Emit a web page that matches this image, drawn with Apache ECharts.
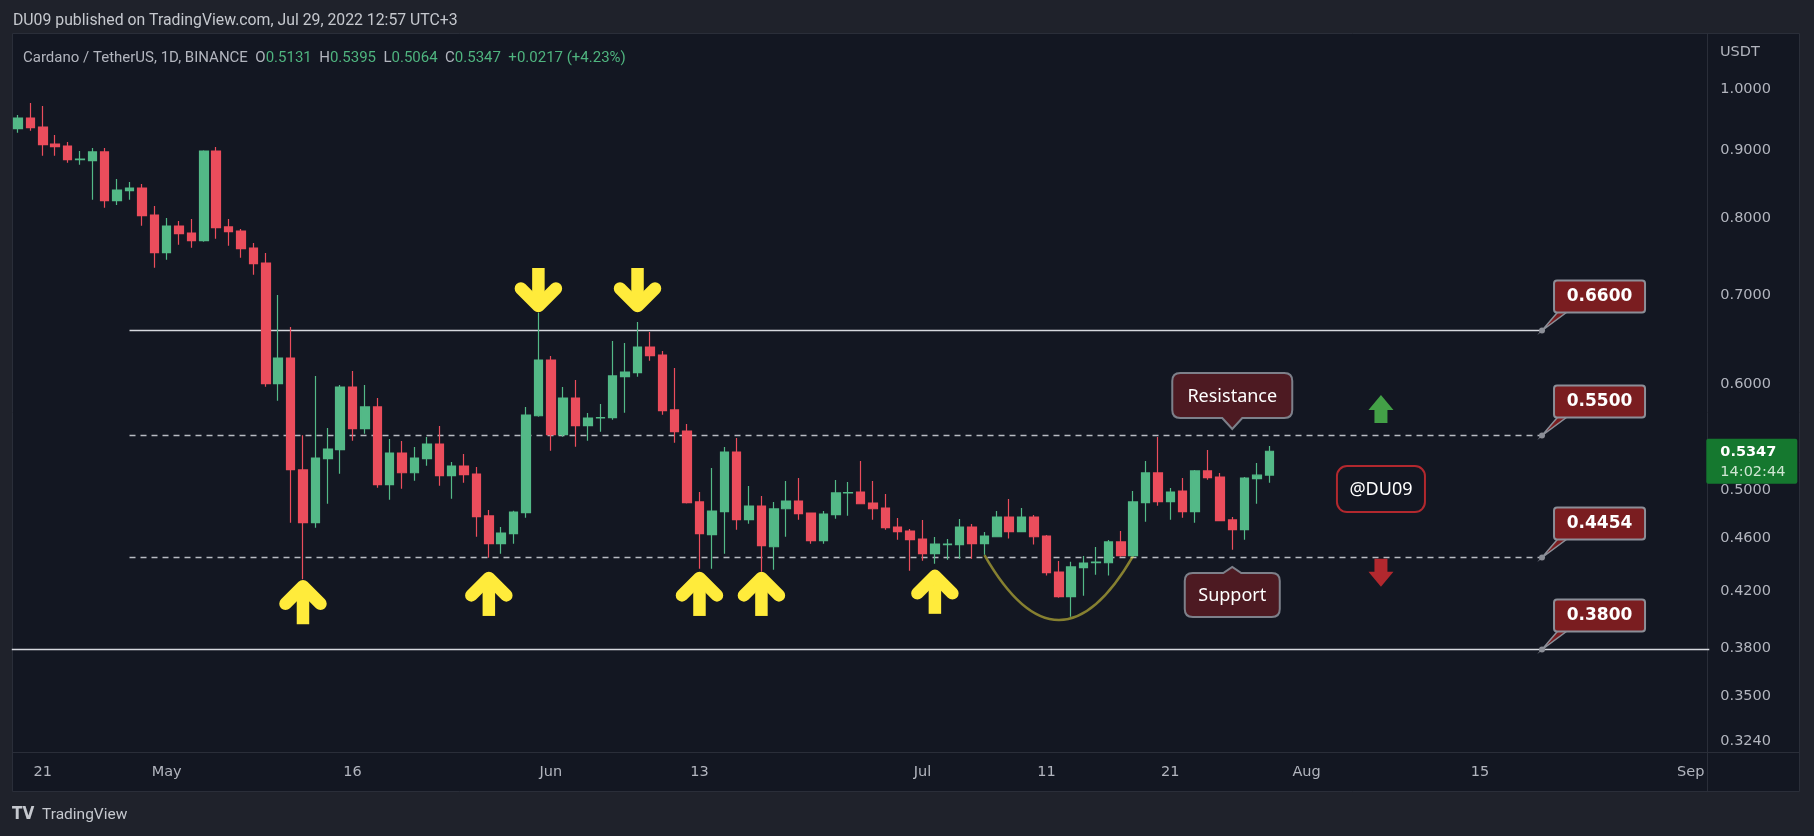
<!DOCTYPE html>
<html>
<head>
<meta charset="utf-8">
<script src="https://cdn.jsdelivr.net/npm/echarts@6/dist/echarts.min.js"></script>
<style>html,body{margin:0;padding:0;background:#1f222b;}#c{width:1814px;height:836px;}</style>
</head>
<body>
<div id="c"></div>
<script>
// ---------------- DATA ----------------
const firstCandleDate = '2022-04-19';
const axisStartDate = '2022-04-19';
const axisEndDate = '2022-09-02';

const opens = [0.9343,0.9517,0.9370,0.9099,0.9067,0.8857,0.8840,0.8974,0.8249,0.8393,
0.8432,0.8047,0.7539,0.7895,0.7800,0.7697,0.8989,0.7882,0.7827,0.7600,
0.7406,0.6010,0.6283,0.5177,0.4726,0.5279,0.5362,0.5976,0.5560,0.5773,
0.5047,0.5331,0.5152,0.5279,0.5414,0.5126,0.5212,0.5141,0.4781,0.4557,
0.4637,0.4808,0.5686,0.6261,0.5503,0.5863,0.5589,0.5664,0.5667,0.6084,
0.6126,0.6404,0.6316,0.5743,0.5537,0.4898,0.4629,0.4817,0.5340,0.4750,
0.4864,0.4533,0.4841,0.4906,0.4805,0.4581,0.4792,0.4975,0.4983,0.4889,
0.4847,0.4690,0.4658,0.4594,0.4479,0.4550,0.4550,0.4690,0.4557,0.4612,
0.4772,0.4653,0.4772,0.4618,0.4339,0.4158,0.4372,0.4409,0.4409,0.4571,
0.4463,0.4892,0.5150,0.4901,0.4992,0.4817,0.5168,0.5114,0.4748,0.4669,
0.5099,0.5131];
const highs = [0.9567,0.9767,0.9717,0.9241,0.9130,0.8989,0.9036,0.9036,0.8564,0.8520,
0.8490,0.8173,0.8005,0.7964,0.7991,0.9000,0.9052,0.7991,0.7854,0.7666,
0.7535,0.7007,0.6629,0.5497,0.6091,0.5566,0.5996,0.6144,0.5996,0.5863,
0.5462,0.5443,0.5386,0.5480,0.5586,0.5248,0.5322,0.5203,0.4830,0.4690,
0.4825,0.5773,0.6796,0.6305,0.5976,0.6049,0.5713,0.5803,0.6471,0.6448,
0.6687,0.6572,0.6360,0.6175,0.5605,0.4983,0.5194,0.5386,0.5471,0.5035,
0.4949,0.4898,0.5079,0.5105,0.4805,0.4822,0.5088,0.5070,0.5257,0.5079,
0.4966,0.4764,0.4674,0.4748,0.4610,0.4594,0.4756,0.4715,0.4650,0.4822,
0.4923,0.4847,0.4789,0.4626,0.4422,0.4417,0.4461,0.4531,0.4586,0.4658,
0.4992,0.5257,0.5480,0.5018,0.5105,0.5177,0.5359,0.5150,0.4772,0.5114,
0.5239,0.5395];
const lows = [0.9279,0.9311,0.8917,0.8917,0.8809,0.8779,0.8263,0.8150,0.8187,0.8263,
0.7900,0.7346,0.7448,0.7644,0.7605,0.7684,0.7724,0.7631,0.7474,0.7258,
0.5979,0.5836,0.4726,0.4285,0.4685,0.4883,0.5144,0.5446,0.5512,0.5021,
0.4917,0.5012,0.5082,0.5215,0.5038,0.4926,0.5064,0.4612,0.4448,0.4479,
0.4557,0.4767,0.5677,0.5352,0.5484,0.5389,0.5446,0.5531,0.5647,0.5716,
0.6084,0.6254,0.5696,0.5427,0.4885,0.4364,0.4364,0.4479,0.4669,0.4717,
0.4341,0.4356,0.4612,0.4750,0.4557,0.4557,0.4758,0.4783,0.4883,0.4750,
0.4669,0.4589,0.4349,0.4425,0.4402,0.4432,0.4440,0.4440,0.4471,0.4607,
0.4597,0.4653,0.4550,0.4312,0.4150,0.4016,0.4165,0.4319,0.4312,0.4456,
0.4456,0.4734,0.4867,0.4750,0.4767,0.4726,0.5091,0.4742,0.4510,0.4589,
0.4883,0.5064];
const closes = [0.9517,0.9359,0.9088,0.9057,0.8855,0.8865,0.8974,0.8249,0.8403,0.8432,
0.8038,0.7539,0.7895,0.7791,0.7697,0.8989,0.7873,0.7818,0.7592,0.7397,
0.6010,0.6283,0.5179,0.4726,0.5285,0.5368,0.5976,0.5560,0.5773,0.5047,
0.5331,0.5152,0.5285,0.5414,0.5126,0.5212,0.5135,0.4775,0.4557,0.4642,
0.4813,0.5693,0.6261,0.5503,0.5863,0.5589,0.5664,0.5667,0.6091,0.6133,
0.6404,0.6309,0.5736,0.5531,0.4892,0.4637,0.4822,0.5340,0.4750,0.4864,
0.4541,0.4839,0.4906,0.4800,0.4581,0.4797,0.4975,0.4977,0.4883,0.4841,
0.4685,0.4653,0.4589,0.4479,0.4554,0.4554,0.4690,0.4557,0.4618,0.4772,
0.4653,0.4772,0.4612,0.4334,0.4158,0.4377,0.4407,0.4414,0.4571,0.4463,
0.4898,0.5150,0.4901,0.4983,0.4817,0.5168,0.5108,0.4742,0.4669,0.5105,
0.5130,0.5347];

const yTickValues = [1.0, 0.9, 0.8, 0.7, 0.6, 0.5, 0.46, 0.42, 0.38, 0.35, 0.324];
const yMin = 0.3178, yMax = 1.1025;
const xTickDates = ['2022-04-21','2022-05-01','2022-05-16','2022-06-01','2022-06-13','2022-07-01','2022-07-11','2022-07-21','2022-08-01','2022-08-15','2022-09-01'];
const xTickLabels = ['21','May','16','Jun','13','Jul','11','21','Aug','15','Sep'];

const levelPrices = [0.66, 0.55, 0.4454, 0.38];
const levelStarts = ['2022-04-28','2022-04-28','2022-04-28', null];
const levelEnds   = ['2022-08-20','2022-08-20','2022-08-20', null];
const levelDashed = [false, true, true, false];
const levelTagDate = '2022-08-20';

const upArrowDates = ['2022-05-12','2022-05-27','2022-06-13','2022-06-18','2022-07-02'];
const upArrowPrices = [0.4285, 0.4347, 0.4347, 0.4347, 0.4363];
const downArrowDates = ['2022-05-31','2022-06-08'];
const downArrowPrices = [0.6792, 0.6792];

const cupDates = ['2022-07-06','2022-07-12','2022-07-18'];
const cupPrices = [0.4468, 0.3993, 0.4461];

const noteTexts = ['Resistance', 'Support'];
const noteDates = ['2022-07-26', '2022-07-26'];
const notePrices = [0.5557, 0.4377];
const noteDirs = ['down', 'up'];

const signalDates = ['2022-08-07', '2022-08-07'];
const signalPrices = [0.5894, 0.4230];
const signalDirs = [1, -1];

const watermarkText = '@DU09';
const watermarkDate = '2022-08-07';
const watermarkPrice = 0.5009;

const headerPublished = 'DU09 published on TradingView.com, Jul 29, 2022 12:57 UTC+3';
const symbolTitle = 'Cardano / TetherUS, 1D, BINANCE';
const countdownText = '14:02:44';

// ---------------- BUILD ----------------
function dayList(a, b) {
  const out = [];
  let t = Date.parse(a + 'T00:00:00Z');
  const e = Date.parse(b + 'T00:00:00Z');
  while (t <= e) { out.push(new Date(t).toISOString().slice(0, 10)); t += 86400000; }
  return out;
}
const categories = dayList(axisStartDate, axisEndDate);
const idx = d => categories.indexOf(d);
const firstIdx = idx(firstCandleDate);
const candleData = categories.map((d, i) => {
  const k = i - firstIdx;
  if (k < 0 || k >= opens.length) return '-';
  return [opens[k], closes[k], lows[k], highs[k]];
});
const last = opens.length - 1;
const lastIdx = firstIdx + last;
const chg = closes[last] - closes[last - 1];
const chgPct = chg / closes[last - 1] * 100;

const UP = '#53b987', DOWN = '#eb4d5c';
const AXIS_FONT = 'DejaVu Sans';

function bubblePath(x0, y0, w, h, r, b, pointer) {
  const x1 = x0 + w, y1 = y0 + h;
  if (pointer === 'down') {
    return `M${x0+r} ${y0} L${x1-r} ${y0} Q${x1} ${y0} ${x1} ${y0+r} L${x1} ${y1-r} Q${x1} ${y1} ${x1-r} ${y1} L${b} ${y1} L0 0 L${-b} ${y1} L${x0+r} ${y1} Q${x0} ${y1} ${x0} ${y1-r} L${x0} ${y0+r} Q${x0} ${y0} ${x0+r} ${y0} Z`;
  }
  return `M${x0+r} ${y0} L${-b} ${y0} L0 0 L${b} ${y0} L${x1-r} ${y0} Q${x1} ${y0} ${x1} ${y0+r} L${x1} ${y1-r} Q${x1} ${y1} ${x1-r} ${y1} L${x0+r} ${y1} Q${x0} ${y1} ${x0} ${y1-r} L${x0} ${y0+r} Q${x0} ${y0} ${x0+r} ${y0} Z`;
}
function textEl(x, y, text, font, fill, align, valign) {
  return { type: 'text', style: { x, y, text, font, fill, align: align, textAlign: align, verticalAlign: valign, textVerticalAlign: valign } };
}

const chart = echarts.init(document.getElementById('c'), null, { renderer: 'canvas', width: 1814, height: 836 });

const option = {
  animation: false,
  backgroundColor: '#1f222b',
  grid: { left: 11.8, top: 33, width: 1697.5, height: 719, containLabel: false, outerBoundsMode: 'none' },
  xAxis: {
    type: 'category', data: categories, boundaryGap: true,
    axisLine: { show: false }, axisTick: { show: false }, splitLine: { show: false },
    axisLabel: {
      interval: (i, v) => xTickDates.indexOf(v) >= 0,
      formatter: v => xTickLabels[xTickDates.indexOf(v)],
      color: '#b2b5be', fontFamily: AXIS_FONT, fontSize: 14.5, margin: 13
    }
  },
  yAxis: {
    type: 'log', logBase: 10, position: 'right', min: yMin, max: yMax,
    axisLine: { show: false }, axisTick: { show: false }, splitLine: { show: false },
    axisLabel: {
      customValues: yTickValues,
      formatter: v => Number(v).toFixed(4),
      color: '#b2b5be', fontFamily: AXIS_FONT, fontSize: 14.5, margin: 11, align: 'left'
    }
  },
  graphic: [
    { type: 'rect', z: -10, silent: true, shape: { x: 12.5, y: 33.5, width: 1787, height: 758 }, style: { fill: '#131722', stroke: '#2a2e39', lineWidth: 1 } },
    { type: 'line', z: -9, silent: true, shape: { x1: 1707.5, y1: 33, x2: 1707.5, y2: 792 }, style: { stroke: '#2a2e39', lineWidth: 1 } },
    { type: 'line', z: -9, silent: true, shape: { x1: 12, y1: 752.5, x2: 1800, y2: 752.5 }, style: { stroke: '#2a2e39', lineWidth: 1 } },
    { type: 'text', z: 50, silent: true, style: { x: 13, y: 21, text: headerPublished, font: '15.8px Roboto', fill: '#c5c8ce', textVerticalAlign: 'middle', verticalAlign: 'middle' } },
    { type: 'text', z: 50, silent: true, style: {
        x: 23, y: 58, verticalAlign: 'middle', textVerticalAlign: 'middle',
        text: `{a|${symbolTitle}  O}{g|${opens[last].toFixed(4)}}{a|  H}{g|${highs[last].toFixed(4)}}{a|  L}{g|${lows[last].toFixed(4)}}{a|  C}{g|${closes[last].toFixed(4)}}{g|  ${chg >= 0 ? '+' : ''}${chg.toFixed(4)} (${chg >= 0 ? '+' : ''}${chgPct.toFixed(2)}%)}`,
        rich: {
          a: { fill: '#b2b5be', font: '15px Roboto' },
          g: { fill: '#4fb47f', font: '15px Roboto' }
        }
    } },
    { type: 'text', z: 50, silent: true, style: { x: 1720, y: 52, text: 'USDT', font: '14.5px "DejaVu Sans"', fill: '#b2b5be', textVerticalAlign: 'middle', verticalAlign: 'middle' } },
    { type: 'text', z: 50, silent: true, style: { x: 12, y: 815, text: 'TV', font: 'bold 17px "DejaVu Sans Condensed", "DejaVu Sans"', fill: '#c5c8ce', textVerticalAlign: 'middle', verticalAlign: 'middle' } },
    { type: 'text', z: 50, silent: true, style: { x: 42, y: 815, text: 'TradingView', font: '15.5px Roboto', fill: '#c5c8ce', textVerticalAlign: 'middle', verticalAlign: 'middle' } }
  ],
  series: [
    {
      type: 'candlestick', name: 'ADAUSDT', data: candleData, barWidth: 9,
      itemStyle: { color: UP, color0: DOWN, borderColor: UP, borderColor0: DOWN, borderWidth: 1.2 }
    },
    {
      type: 'custom', name: 'levels', silent: true,
      data: levelPrices.map((p, i) => [levelStarts[i] ? idx(levelStarts[i]) : 0, p, levelEnds[i] ? idx(levelEnds[i]) : 0, levelStarts[i] ? 0 : 1]),
      renderItem: (params, api) => {
        const cs = params.coordSys;
        const i = params.dataIndex;
        const pr = api.value(1);
        const full = api.value(3) === 1;
        const y = Math.round(api.coord([api.value(0), pr])[1]) + 0.5;
        const x1 = full ? cs.x : api.coord([api.value(0), pr])[0];
        const x2 = full ? cs.x + cs.width : api.coord([api.value(2), pr])[0];
        return { type: 'line', shape: { x1, y1: y, x2, y2: y },
          style: { stroke: levelDashed[i] ? '#b8bbc2' : '#d6d8de', lineWidth: 1.3, lineDash: levelDashed[i] ? [6, 5] : null } };
      }
    },
    {
      type: 'custom', name: 'levelTags', silent: true,
      data: levelPrices.map(p => [idx(levelTagDate), p]),
      renderItem: (params, api) => {
        const p = api.coord([api.value(0), api.value(1)]);
        const txt = Number(api.value(1)).toFixed(4);
        return { type: 'group', x: p[0], y: Math.round(p[1]) + 0.5, children: [
          { type: 'polygon', shape: { points: [[0, 0], [17, -20], [27, -20]] }, style: { fill: '#7a1d20', stroke: '#8b8e97', lineWidth: 1.5 } },
          { type: 'rect', shape: { x: 12, y: -50, width: 91, height: 32, r: 3 }, style: { fill: '#7a1d20', stroke: '#8b8e97', lineWidth: 2 } },
          { type: 'circle', shape: { cx: 0, cy: 0, r: 3 }, style: { fill: '#8b8e97' } },
          textEl(57.5, -33.5, txt, 'bold 17px "DejaVu Sans"', '#ffffff', 'center', 'middle')
        ] };
      }
    },
    {
      type: 'custom', name: 'turnArrows', silent: true,
      data: upArrowDates.map((d, i) => [idx(d), upArrowPrices[i], 1]).concat(downArrowDates.map((d, i) => [idx(d), downArrowPrices[i], -1])),
      renderItem: (params, api) => {
        const p = api.coord([api.value(0), api.value(1)]);
        const dir = api.value(2);
        const st = { stroke: '#ffeb3b', lineWidth: 12.5, fill: null };
        return { type: 'group', x: p[0], y: p[1], scaleY: dir, children: [
          { type: 'line', shape: { x1: 0, y1: 8, x2: 0, y2: 45 }, style: Object.assign({}, st, { lineCap: 'butt' }) },
          { type: 'polyline', shape: { points: [[-17.5, 24.5], [0, 7], [17.5, 24.5]] }, style: Object.assign({}, st, { lineCap: 'round', lineJoin: 'round' }) }
        ] };
      }
    },
    {
      type: 'custom', name: 'cup', silent: true,
      data: [[idx(cupDates[0]), cupPrices[0], idx(cupDates[1]), cupPrices[1], idx(cupDates[2]), cupPrices[2]]],
      renderItem: (params, api) => {
        const a = api.coord([api.value(0), api.value(1)]);
        const m = api.coord([api.value(2), api.value(3)]);
        const b = api.coord([api.value(4), api.value(5)]);
        const cx = 2 * m[0] - (a[0] + b[0]) / 2, cy = 2 * m[1] - (a[1] + b[1]) / 2;
        return { type: 'bezierCurve', shape: { x1: a[0], y1: a[1], x2: b[0], y2: b[1], cpx1: cx, cpy1: cy },
          style: { stroke: 'rgba(230,215,60,0.55)', lineWidth: 2.5, fill: null } };
      }
    },
    {
      type: 'custom', name: 'notes', silent: true,
      data: noteDates.map((d, i) => [idx(d), notePrices[i]]),
      renderItem: (params, api) => {
        const i = params.dataIndex;
        const p = api.coord([api.value(0), api.value(1)]);
        const down = noteDirs[i] === 'down';
        const box = down ? { x0: -60, y0: -56, w: 120, h: 45 } : { x0: -47.5, y0: 6, w: 95, h: 44 };
        return { type: 'group', x: p[0], y: p[1], children: [
          { type: 'path', shape: { pathData: bubblePath(box.x0, box.y0, box.w, box.h, 8, down ? 10 : 9, noteDirs[i]) },
            style: { fill: '#4d1a22', stroke: '#7d808a', lineWidth: 2 } },
          textEl(box.x0 + box.w / 2, box.y0 + box.h / 2 + 1, noteTexts[i], '18px "Noto Sans"', '#ffffff', 'center', 'middle')
        ] };
      }
    },
    {
      type: 'custom', name: 'signals', silent: true,
      data: signalDates.map((d, i) => [idx(d), signalPrices[i], signalDirs[i]]),
      renderItem: (params, api) => {
        const p = api.coord([api.value(0), api.value(1)]);
        const dir = api.value(2);
        return { type: 'polygon', x: p[0], y: p[1], scaleY: dir,
          shape: { points: [[0, 0], [12.5, 15], [6.5, 15], [6.5, 28], [-6.5, 28], [-6.5, 15], [-12.5, 15]] },
          style: { fill: dir > 0 ? '#43a047' : '#b2282e' } };
      }
    },
    {
      type: 'custom', name: 'watermark', silent: true,
      data: [[idx(watermarkDate), watermarkPrice]],
      renderItem: (params, api) => {
        const p = api.coord([api.value(0), api.value(1)]);
        return { type: 'group', x: p[0], y: p[1], children: [
          { type: 'rect', shape: { x: -44, y: -23, width: 88, height: 46, r: 10 }, style: { fill: '#131722', stroke: '#b2282e', lineWidth: 2 } },
          textEl(0, 1, watermarkText, '18px "Noto Sans"', '#ffffff', 'center', 'middle')
        ] };
      }
    },
    {
      type: 'custom', name: 'lastPrice', silent: true, clip: false,
      data: [[lastIdx, closes[last]]],
      renderItem: (params, api) => {
        const cs = params.coordSys;
        const p = api.coord([api.value(0), api.value(1)]);
        const x = cs.x + cs.width - 3;
        return { type: 'group', x: x, y: p[1], children: [
          { type: 'rect', shape: { x: 0, y: -12.5, width: 91, height: 45, r: 2 }, style: { fill: '#15782f' } },
          textEl(14, 1, Number(api.value(1)).toFixed(4), 'bold 14.5px "DejaVu Sans"', '#ffffff', 'left', 'middle'),
          textEl(14, 21, countdownText, '14.5px "DejaVu Sans"', '#cfe6d3', 'left', 'middle')
        ] };
      }
    }
  ]
};
chart.setOption(option);
</script>
</body>
</html>
